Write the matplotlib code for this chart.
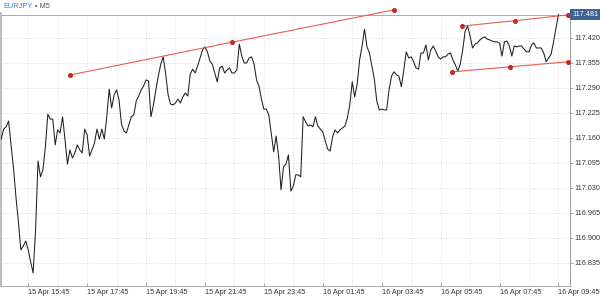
import matplotlib
matplotlib.use("Agg")
import matplotlib.pyplot as plt

plt.rcParams['font.family'] = ['Liberation Sans', 'DejaVu Sans']

# EURJPY M5 closes, first bar = 15 Apr 14:50 (bar index 0), 5-minute steps
prices = [
    117.157, 117.183, 117.189, 117.204, 117.142, 117.082, 117.007, 116.942, 116.869, 116.879,
    116.892, 116.869, 116.838, 116.809, 116.921, 117.100, 117.059, 117.077, 117.137, 117.222,
    117.209, 117.209, 117.142, 117.181, 117.173, 117.215, 117.155, 117.092, 117.129, 117.108,
    117.121, 117.142, 117.129, 117.121, 117.183, 117.168, 117.113, 117.129, 117.147, 117.183,
    117.157, 117.183, 117.157, 117.215, 117.287, 117.238, 117.272, 117.285, 117.259, 117.196,
    117.178, 117.173, 117.194, 117.215, 117.220, 117.256, 117.269, 117.285, 117.295, 117.311,
    117.308, 117.215, 117.246, 117.285, 117.321, 117.352, 117.371, 117.326, 117.272, 117.248,
    117.246, 117.251, 117.261, 117.251, 117.267, 117.277, 117.269, 117.326, 117.339, 117.329,
    117.347, 117.368, 117.389, 117.397, 117.384, 117.360, 117.352, 117.329, 117.306, 117.342,
    117.347, 117.329, 117.337, 117.342, 117.329, 117.329, 117.337, 117.404, 117.373, 117.355,
    117.355, 117.368, 117.371, 117.352, 117.311, 117.295, 117.261, 117.235, 117.235, 117.220,
    117.173, 117.124, 117.165, 117.113, 117.025, 117.085, 117.092, 117.116, 117.022, 117.035,
    117.064, 117.064, 117.059, 117.215, 117.202, 117.191, 117.194, 117.189, 117.215, 117.191,
    117.183, 117.176, 117.152, 117.131, 117.126, 117.163, 117.181, 117.173, 117.181, 117.186,
    117.191, 117.212, 117.246, 117.306, 117.267, 117.300, 117.363, 117.399, 117.443, 117.397,
    117.381, 117.347, 117.313, 117.256, 117.233, 117.235, 117.233, 117.233, 117.285, 117.321,
    117.332, 117.324, 117.321, 117.293, 117.337, 117.384, 117.368, 117.371, 117.358, 117.342,
    117.339, 117.381, 117.381, 117.402, 117.363, 117.389, 117.399, 117.386, 117.371, 117.365,
    117.371, 117.371, 117.378, 117.381, 117.363, 117.350, 117.334, 117.352, 117.389, 117.438,
    117.451, 117.425, 117.394, 117.404, 117.407, 117.415, 117.420, 117.423, 117.417, 117.415,
    117.412, 117.410, 117.410, 117.407, 117.373, 117.410, 117.412, 117.399, 117.373, 117.399,
    117.397, 117.399, 117.399, 117.391, 117.384, 117.384, 117.402, 117.407, 117.394, 117.394,
    117.394, 117.381, 117.358, 117.368, 117.378, 117.410, 117.446, 117.481,
]
bars = list(range(len(prices)))

# trend lines (bar index, price)
trend1_x = [28.1, 94.0, 159.9]
trend1_y = [117.324, 117.409, 117.493]
chan_up_x = [187.7, 209.2, 230.8]
chan_up_y = [117.451, 117.465, 117.480]
chan_lo_x = [183.6, 207.2, 230.8]
chan_lo_y = [117.332, 117.345, 117.358]

last_price = 117.481
y_ticks = [116.835, 116.900, 116.965, 117.030, 117.095, 117.160, 117.225, 117.290, 117.355, 117.420]
x_tick_bars = [11, 35, 59, 83, 107, 131, 155, 179, 203, 227]
x_tick_labels = ["15 Apr 15:45", "15 Apr 17:45", "15 Apr 19:45", "15 Apr 21:45", "15 Apr 23:45",
                 "16 Apr 01:45", "16 Apr 03:45", "16 Apr 05:45", "16 Apr 07:45", "16 Apr 09:45"]
grid_bars = list(range(11, 228, 12))

W, H = 600, 297
fig = plt.figure(figsize=(6.0, 2.97), dpi=100)
ax = fig.add_axes([0.002, 1 - 286 / H, 0.948, (286 - 13) / H])
ax.set_xlim(0, 231.7)
ax.set_ylim(116.775, 117.485)

# grid
for g in grid_bars:
    ax.axvline(g, color='#d9d9d9', lw=0.5, ls=(0, (2, 2)), zorder=0)
for t in y_ticks:
    ax.axhline(t, color='#d9d9d9', lw=0.5, ls=(0, (2, 2)), zorder=0)

# current price line
ax.axhline(last_price, color='#9a9a9a', lw=0.6, zorder=1)

ax.plot(bars, prices, color='#1e1e1e', lw=0.75, zorder=3)

red_line = '#e2604e'
red_dot = '#c8281e'
for xs, ys in [(trend1_x, trend1_y), (chan_up_x, chan_up_y), (chan_lo_x, chan_lo_y)]:
    ax.plot(xs, ys, color=red_line, lw=0.8, zorder=4, clip_on=False)
    ax.plot(xs, ys, ls='none', marker='o', ms=2.6, color=red_dot, mec=red_dot, zorder=5, clip_on=False)

# axes style
ax.yaxis.tick_right()
ax.set_yticks(y_ticks)
ax.set_yticklabels([f"{v:.3f}" for v in y_ticks])
ax.set_xticks(x_tick_bars)
ax.set_xticklabels(x_tick_labels, ha='left')
ax.tick_params(axis='y', length=2, width=0.5, color='#888888', pad=1.2, labelsize=5.2, labelcolor='#333333')
ax.tick_params(axis='x', length=2, width=0.5, color='#888888', pad=2.0, labelsize=5.2, labelcolor='#333333', direction='in')
for lab in ax.get_xticklabels():
    lab.set_horizontalalignment('left')

ax.spines['top'].set_visible(False)
ax.spines['left'].set_color('#b0b0b0')
ax.spines['left'].set_linewidth(1.2)
ax.spines['bottom'].set_color('#9a9a9a')
ax.spines['bottom'].set_linewidth(0.6)
ax.spines['right'].set_color('#8a8a8a')
ax.spines['right'].set_linewidth(0.6)

# last price label box
ax.text(1.004, last_price, f"{last_price:.3f}", transform=ax.get_yaxis_transform(),
        ha='left', va='center', fontsize=5.2, color='white', zorder=6, clip_on=False,
        bbox=dict(boxstyle='square,pad=0.25', fc='#3f6290', ec='none'))

# header title
t1 = fig.text(3 / W, 1 - 6.5 / H, "EURJPY", fontsize=5.3, color='#3a7fd5', ha='left', va='center')
fig.text(0, 0, "\u2022 M5", fontsize=5.3, color='#555555', ha='left', va='center')
fig.texts[-1].remove()
ax.annotate("\u2022 M5", xy=(1, 0.5), xycoords=t1, xytext=(2, 0), textcoords='offset points',
            fontsize=5.3, color='#555555', ha='left', va='center', annotation_clip=False)

fig.savefig("out.png", dpi=100)
